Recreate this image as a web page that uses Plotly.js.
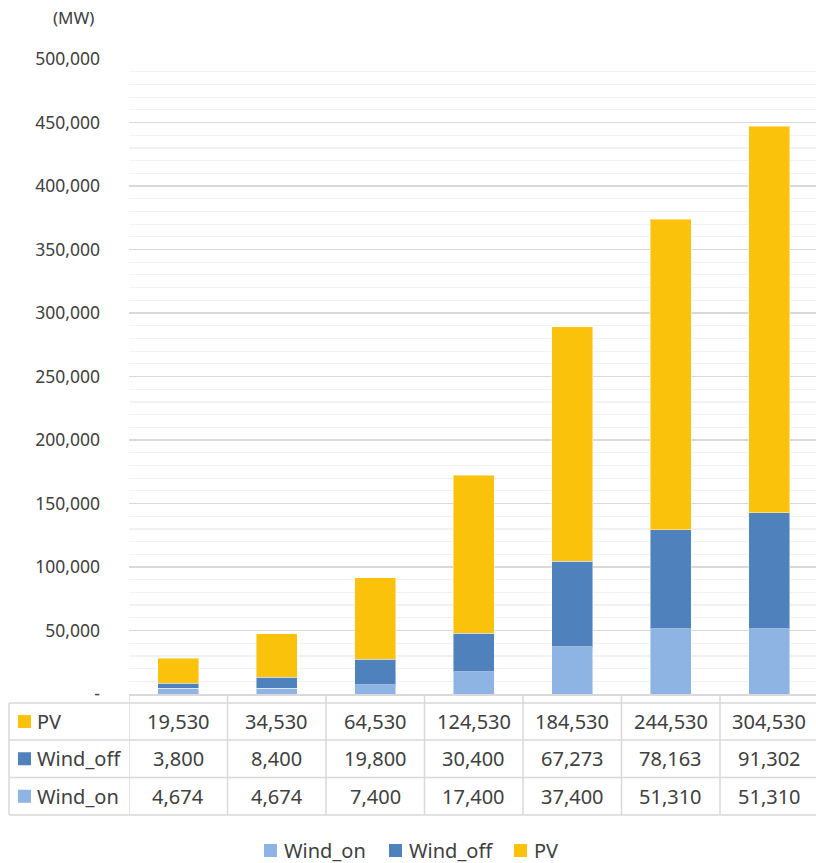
<!DOCTYPE html>
<html>
<head>
<meta charset="utf-8">
<script src="https://cdn.plot.ly/plotly-3.0.1.min.js"></script>
<style>
  html, body { margin: 0; padding: 0; background: #ffffff; }
  #chart { width: 816px; height: 863px; }
</style>
</head>
<body>
<div id="chart"></div>
<script>
// Installed capacity by source (MW), seven steps
const seriesNames = ['PV', 'Wind_off', 'Wind_on'];
const pv      = [19530, 34530, 64530, 124530, 184530, 244530, 304530];
const windOff = [3800, 8400, 19800, 30400, 67273, 78163, 91302];
const windOn  = [4674, 4674, 7400, 17400, 37400, 51310, 51310];
const yTickVals = [0, 50000, 100000, 150000, 200000, 250000, 300000, 350000, 400000, 450000, 500000];
const yTickText = ['-', '50,000', '100,000', '150,000', '200,000', '250,000', '300,000', '350,000', '400,000', '450,000', '500,000'];
const unitLabel = '(MW)';

const colors = { 'PV': '#FAC20A', 'Wind_off': '#4F81BD', 'Wind_on': '#8DB4E2' };
const valuesBy = { 'PV': pv, 'Wind_off': windOff, 'Wind_on': windOn };

const FONT = 'Noto Sans, DejaVu Sans, sans-serif';
const TXT = '#404040';
const LINE = '#d9d9d9';

// page geometry (px)
const L = 129, T = 59, B = 169, R = 0;
const plotW = 816 - L - R, plotH = 863 - T - B;
const axisY = T + plotH;               // y pixel of the zero line
const colW = 98.5;                     // width of one category column
const px = p => (p - L) / plotW;       // pixel -> paper x
const py = p => (axisY - p) / plotH;   // pixel -> paper y

const xs = pv.map((_, i) => i);

// stacked bars, bottom to top
const stackOrder = ['Wind_on', 'Wind_off', 'PV'];
const traces = stackOrder.map(name => ({
  type: 'bar',
  name: name,
  x: xs,
  y: valuesBy[name],
  width: 0.42,
  marker: { color: colors[name], line: { color: 'rgba(255,255,255,0.45)', width: 1 } },
  hoverinfo: 'y+name',
  showlegend: false
}));

const shapes = [];
const annotations = [];

// data table under the plot
const rowEdges = [703, 740, 777.5, 815];
const tableLeft = 9;
rowEdges.forEach(y => shapes.push({
  type: 'line', xref: 'paper', yref: 'paper',
  x0: px(tableLeft), x1: 1.01, y0: py(y), y1: py(y),
  line: { color: LINE, width: 1.5 }
}));
shapes.push({
  type: 'line', xref: 'paper', yref: 'paper',
  x0: px(tableLeft), x1: px(tableLeft), y0: py(rowEdges[0]), y1: py(rowEdges[3]),
  line: { color: LINE, width: 1.5 }
});
for (let i = 0; i <= xs.length; i++) {
  shapes.push({
    type: 'line', xref: 'x', yref: 'paper',
    x0: i - 0.5, x1: i - 0.5, y0: py(axisY), y1: py(rowEdges[3]),
    line: { color: LINE, width: 1.5 }
  });
}

seriesNames.forEach((name, r) => {
  const cy = (rowEdges[r] + rowEdges[r + 1]) / 2;
  // colour key
  shapes.push({
    type: 'rect', xref: 'paper', yref: 'paper',
    x0: px(18), x1: px(31), y0: py(cy - 6.5), y1: py(cy + 6.5),
    fillcolor: colors[name], line: { width: 0 }
  });
  annotations.push({
    xref: 'paper', yref: 'paper', x: px(35), y: py(cy),
    xanchor: 'left', yanchor: 'middle', showarrow: false,
    text: name, font: { family: FONT, size: 20, color: TXT }
  });
  valuesBy[name].forEach((v, i) => annotations.push({
    xref: 'x', yref: 'paper', x: xs[i], y: py(cy),
    xanchor: 'center', yanchor: 'middle', showarrow: false,
    text: v.toLocaleString('en-US'), font: { family: FONT, size: 20, color: TXT }
  }));
});

// legend row at the bottom
const legendItems = [
  { name: 'Wind_on', x: 264 },
  { name: 'Wind_off', x: 389 },
  { name: 'PV', x: 514 }
];
const legendY = 850.5;
legendItems.forEach(item => {
  shapes.push({
    type: 'rect', xref: 'paper', yref: 'paper',
    x0: px(item.x), x1: px(item.x + 13), y0: py(legendY - 6.5), y1: py(legendY + 6.5),
    fillcolor: colors[item.name], line: { width: 0 }
  });
  annotations.push({
    xref: 'paper', yref: 'paper', x: px(item.x + 18), y: py(legendY),
    xanchor: 'left', yanchor: 'middle', showarrow: false,
    text: item.name, font: { family: FONT, size: 20, color: TXT }
  });
});

// unit label above the axis
annotations.push({
  xref: 'paper', yref: 'paper', x: px(73), y: py(17),
  xanchor: 'center', yanchor: 'middle', showarrow: false,
  text: unitLabel, font: { family: FONT, size: 17, color: TXT }
});

const layout = {
  width: 816, height: 863,
  margin: { l: L, r: R, t: T, b: B, pad: 0 },
  paper_bgcolor: '#ffffff', plot_bgcolor: '#ffffff',
  barmode: 'stack',
  bargap: 0.58,
  showlegend: false,
  font: { family: FONT, color: TXT },
  xaxis: {
    range: [-0.5, -0.5 + plotW / colW],
    showticklabels: false, ticks: '',
    showgrid: false, zeroline: false,
    showline: true, linecolor: LINE, linewidth: 1.5,
    fixedrange: true
  },
  yaxis: {
    range: [0, 500000],
    tickvals: yTickVals, ticktext: yTickText,
    tickfont: { family: FONT, size: 17.5, color: TXT },
    ticklabelstandoff: 28,
    ticks: '',
    showgrid: true, gridcolor: LINE, gridwidth: 1.3,
    minor: { dtick: 10000, showgrid: true, gridcolor: '#f2f2f2', gridwidth: 1.2 },
    zeroline: false, showline: false,
    fixedrange: true
  },
  shapes: shapes,
  annotations: annotations
};

Plotly.newPlot('chart', traces, layout, { staticPlot: true, displayModeBar: false });
</script>
</body>
</html>
